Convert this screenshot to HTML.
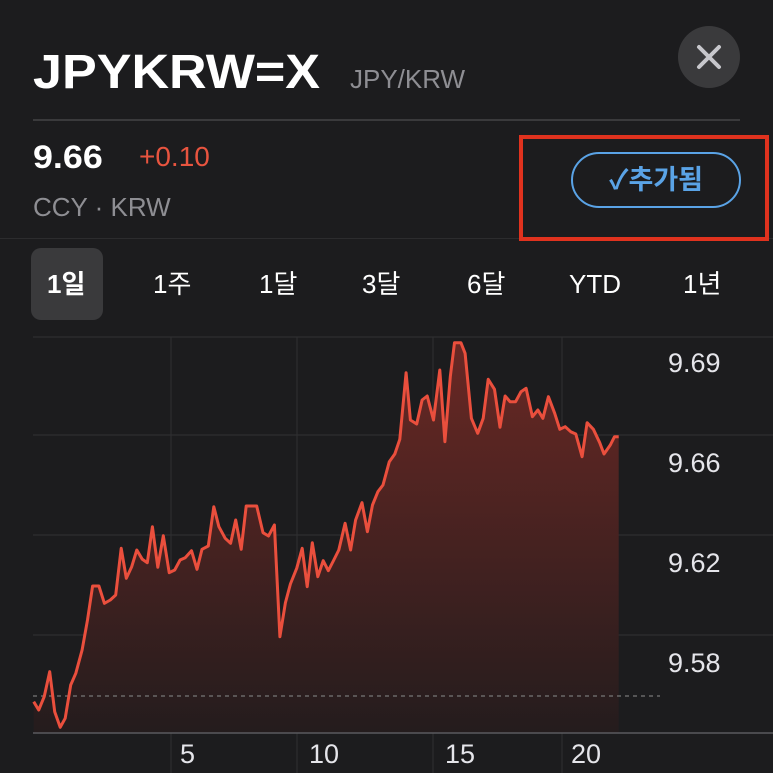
<!DOCTYPE html>
<html><head><meta charset="utf-8"><style>
body{margin:0;background:#1c1c1e;width:773px;height:773px;overflow:hidden;position:relative;font-family:"Liberation Sans","Noto Sans CJK KR",sans-serif;color:#fff}
.a{position:absolute;white-space:nowrap}
.t{position:absolute;top:0;line-height:34px;height:34px}
</style></head><body>
<div class="a" style="left:33px;top:45px;font-size:48px;font-weight:bold;transform:scaleX(1.085);transform-origin:0 0">JPYKRW=X</div>
<div class="a" style="left:350px;top:64px;font-size:26px;color:#8e8e93">JPY/KRW</div>
<div class="a" style="left:678px;top:26px;width:62px;height:62px;border-radius:50%;background:#3a3a3c"></div>
<svg class="a" style="left:678px;top:26px" width="62" height="62"><path d="M21 21L41 41M41 21L21 41" stroke="#c7c7cc" stroke-width="4" stroke-linecap="round"/></svg>
<div class="a" style="left:33px;top:119px;width:707px;height:2px;background:#3a3a3c"></div>
<div class="a" style="left:33px;top:139px;font-size:32px;font-weight:bold;transform:scaleX(1.12);transform-origin:0 0">9.66</div>
<div class="a" style="left:139px;top:141px;font-size:28px;color:#e8543f">+0.10</div>
<div class="a" style="left:33px;top:192px;font-size:26px;color:#8e8e93">CCY · KRW</div>
<div class="a" style="left:0;top:238px;width:773px;height:1px;background:#2c2c2e"></div>
<div class="a" style="left:519px;top:135px;width:242px;height:98px;border:4px solid #e0321e"></div>
<div class="a" style="left:571px;top:152px;width:166px;height:52px;border:2px solid #5aa3e6;border-radius:28px;color:#5aa3e6;font-size:27px;font-weight:bold;text-align:center;line-height:52px">✓추가됨</div>
<div class="a" style="left:31px;top:248px;width:72px;height:72px;border-radius:10px;background:#3a3a3c"></div>
<div class="a" style="top:267px;font-size:26px;left:0;width:773px;height:34px">
<span class="t" style="left:47px;font-weight:bold">1일</span>
<span class="t" style="left:153px">1주</span>
<span class="t" style="left:259px">1달</span>
<span class="t" style="left:362px">3달</span>
<span class="t" style="left:467px">6달</span>
<span class="t" style="left:569px">YTD</span>
<span class="t" style="left:683px">1년</span>
</div>
<svg class="a" style="left:0;top:0" width="773" height="773">
<defs><linearGradient id="g" x1="0" y1="0" x2="0" y2="1"><stop offset="0" stop-color="#6a2824"/><stop offset="1" stop-color="#241c1d"/></linearGradient></defs>
<g stroke="#2e2e30" stroke-width="1.2">
<line x1="33" y1="337" x2="773" y2="337"/><line x1="33" y1="435" x2="773" y2="435"/><line x1="33" y1="535" x2="773" y2="535"/><line x1="33" y1="635" x2="773" y2="635"/>
<line x1="171" y1="337" x2="171" y2="773"/><line x1="297" y1="337" x2="297" y2="773"/><line x1="433" y1="337" x2="433" y2="773"/><line x1="562" y1="337" x2="562" y2="773"/>
</g>
<path id="f" fill="url(#g)"/>
<line x1="33" y1="696" x2="660" y2="696" stroke="#777" stroke-width="1.2" stroke-dasharray="4,4"/>
<line x1="33" y1="733" x2="773" y2="733" stroke="#5a5a5e" stroke-width="1.5"/>
<path id="l" fill="none" stroke="#ea4f3d" stroke-width="3" stroke-linejoin="round"/>
<g fill="#e5e5ea" font-size="27" font-family="Liberation Sans,sans-serif">
<text x="668" y="372">9.69</text><text x="668" y="472">9.66</text><text x="668" y="572">9.62</text><text x="668" y="672">9.58</text>
<text x="180" y="763">5</text><text x="309" y="763">10</text><text x="445" y="763">15</text><text x="571" y="763">20</text>
</g>
</svg>
<script>
var p=[80,1115,92,1140,105,1100,118,1025,130,1145,143,1192,155,1165,168,1065,180,1030,195,960,208,870,220,768,235,768,248,820,262,810,275,795,288,655,300,745,313,710,325,660,338,688,350,698,362,590,375,712,388,617,402,728,415,720,428,690,440,683,455,662,468,718,480,658,495,648,508,530,520,590,535,625,548,640,560,570,573,658,585,528,610,528,625,608,638,618,652,585,665,920,678,818,690,762,705,715,718,655,730,770,742,638,755,740,768,692,780,722,792,693,805,660,820,580,833,660,845,570,860,518,873,605,885,525,898,485,910,465,925,395,938,372,950,328,965,128,975,270,990,282,1003,210,1015,198,1030,270,1045,120,1057,335,1070,140,1080,38,1095,38,1105,70,1120,265,1135,310,1148,265,1160,148,1175,178,1188,292,1200,198,1212,215,1225,215,1238,185,1250,175,1265,260,1278,240,1290,265,1303,200,1318,250,1330,298,1343,290,1356,305,1368,312,1383,380,1395,278,1410,298,1425,338,1435,372,1450,345,1460,320,1470,320];
var d="";for(var i=0;i<p.length;i+=2){d+=(i?"L":"M")+(p[i]/2.376).toFixed(1)+" "+(p[i+1]/3+330).toFixed(1);}
document.getElementById("l").setAttribute("d",d);
document.getElementById("f").setAttribute("d",d+"L"+(1470/2.376).toFixed(1)+" 733L"+(80/2.376).toFixed(1)+" 733Z");
</script>
</body></html>
